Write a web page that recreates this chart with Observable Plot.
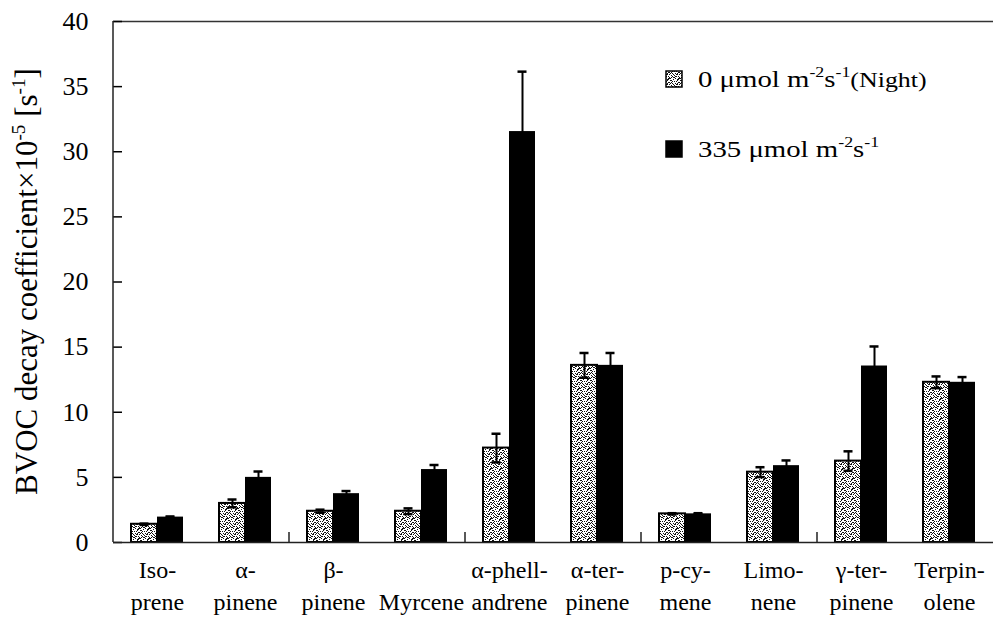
<!DOCTYPE html>
<html>
<head>
<meta charset="utf-8">
<script src="https://cdn.jsdelivr.net/npm/d3@7"></script>
<script src="https://cdn.jsdelivr.net/npm/@observablehq/plot@0.6"></script>
<style>
  body { margin: 0; background: #fff; }
  #chart { width: 993px; height: 622px; }
  #chart svg, #chart svg text, #chart svg tspan {
    font-family: "Liberation Serif", "Times New Roman", serif !important;
  }
</style>
</head>
<body>
<div id="chart"></div>
<script>
// BVOC decay coefficients (×10^-5 s^-1) for each compound, dark vs. light.
const compounds = ["Isoprene", "α-pinene", "β-pinene", "Myrcene", "α-phellandrene",
                   "α-terpinene", "p-cymene", "Limonene", "γ-terpinene", "Terpinolene"];
const tickLabels = ["Iso-\nprene", "α-\npinene", "β-\npinene", "\nMyrcene", "α-phell-\nandrene",
                    "α-ter-\npinene", "p-cy-\nmene", "Limo-\nnene", "γ-ter-\npinene", "Terpin-\nolene"];
const seriesKeys = ["night", "light"];
const nightRate = [1.4, 3.0, 2.4, 2.4, 7.25, 13.6, 2.2, 5.4, 6.25, 12.3];
const nightErr  = [0.05, 0.3, 0.12, 0.22, 1.1, 0.95, 0.05, 0.38, 0.75, 0.45];
const lightRate = [1.95, 5.0, 3.75, 5.6, 31.55, 13.6, 2.2, 5.9, 13.55, 12.3];
const lightErr  = [0.05, 0.45, 0.2, 0.35, 4.6, 0.95, 0.05, 0.4, 1.5, 0.4];
const yTicks = [0, 5, 10, 15, 20, 25, 30, 35, 40];

const rows = compounds.flatMap((c, i) => [
  {compound: c, series: "night", value: nightRate[i], err: nightErr[i]},
  {compound: c, series: "light", value: lightRate[i], err: lightErr[i]}
]);
const labelOf = new Map(compounds.map((c, i) => [c, tickLabels[i]]));
const ink = "#000";
const serif = "'Liberation Serif', 'Times New Roman', serif";

const plot = Plot.plot({
  width: 993,
  height: 622,
  marginLeft: 113,
  marginRight: 0,
  marginTop: 21,
  marginBottom: 80,
  style: {color: ink, background: "#fff", fontFamily: serif},
  fx: {domain: compounds, paddingInner: 0, paddingOuter: 0, label: null},
  x: {domain: seriesKeys, paddingInner: 0, paddingOuter: 0.66, axis: null},
  y: {domain: [0, 40], label: null},
  marks: [
    Plot.ruleY([40], {stroke: "#333", strokeWidth: 1.5}),
    Plot.axisY(yTicks, {tickSize: 0, tickPadding: 25, fontSize: 26, label: null}),
    Plot.axisY(yTicks, {tickSize: -9, text: null, strokeWidth: 1.5}),
    Plot.axisFx({anchor: "bottom", tickSize: 0, tickPadding: 13, fontSize: 24, lineHeight: 1.32,
                 tickFormat: (d) => labelOf.get(d), label: null}),
    Plot.barY(rows, {filter: (d) => d.series === "night", fx: "compound", x: "series", y: "value",
                     fill: "url(#stipple)", stroke: ink, strokeWidth: 2}),
    Plot.barY(rows, {filter: (d) => d.series === "light", fx: "compound", x: "series", y: "value",
                     fill: ink}),
    Plot.ruleX(rows, {fx: "compound", x: "series", y1: (d) => d.value - d.err, y2: (d) => d.value + d.err,
                      stroke: ink, strokeWidth: 2}),
    Plot.tickY(rows, {fx: "compound", x: "series", y: (d) => d.value + d.err,
                      insetLeft: 8.5, insetRight: 8.5, stroke: ink, strokeWidth: 2.5}),
    Plot.tickY(rows, {fx: "compound", x: "series", y: (d) => d.value - d.err,
                      insetLeft: 8.5, insetRight: 8.5, stroke: ink, strokeWidth: 2.5}),
    Plot.ruleY([0], {stroke: "#222", strokeWidth: 1.5})
  ]
});

const svg = d3.select(plot);
const fx = plot.scale("fx");
const y = plot.scale("y");

// Stippled fill for the night-time bars
const pattern = svg.insert("defs", ":first-child")
  .append("pattern").attr("id", "stipple").attr("patternUnits", "userSpaceOnUse")
  .attr("width", 10).attr("height", 10);
pattern.append("rect").attr("width", 10).attr("height", 10).attr("fill", "#fff");
const dots = [[0,0,2],[4,1,1],[7,0,1],[2,3,1],[6,4,2],[1,5,1],[8,6,1],[3,7,2],[5,8,1],[0,8,1],
              [7,3,1],[4,5,1],[2,1,1],[9,2,1],[5,3,1],[3,9,1],[8,8,2],[1,7,1],[6,6,1],[9,4,1],
              [2,6,1],[0,3,1],[6,1,1],[8,2,1],[4,7,1],[7,9,2],[1,2,1],[5,6,1],[3,4,1],[9,7,1]];
pattern.selectAll("rect.dot").data(dots).join("rect").attr("class", "dot")
  .attr("x", (d) => d[0]).attr("y", (d) => d[1]).attr("width", (d) => d[2]).attr("height", 1)
  .attr("fill", "#111");

// Left axis line
const [x0] = fx.range;
svg.append("line").attr("x1", x0).attr("x2", x0).attr("y1", y.apply(0)).attr("y2", y.apply(40))
  .attr("stroke", "#222").attr("stroke-width", 1.5);

// Category tick marks on every other boundary
compounds.forEach((c, i) => {
  if (i > 0 && i % 2 === 0) {
    const xb = fx.apply(c);
    svg.append("line").attr("x1", xb).attr("x2", xb).attr("y1", y.apply(0)).attr("y2", y.apply(0) - 10)
      .attr("stroke", "#222").attr("stroke-width", 1.5);
  }
});

// Text with superscripts / smaller runs
function richText(sel, parts, size) {
  let shift = 0;
  for (const [t, kind] of parts) {
    const fs = kind === "s" ? size * 0.62 : kind === "m" ? size * 0.9 : size;
    const target = kind === "s" ? -size * 0.4 : 0;
    sel.append("tspan").attr("font-size", fs).attr("dy", target - shift).text(t);
    shift = target;
  }
}

// Y-axis title
const yMid = (y.apply(0) + y.apply(40)) / 2;
const title = svg.append("text").attr("transform", `translate(37,${yMid}) rotate(-90)`)
  .attr("text-anchor", "middle").attr("fill", ink).attr("font-size", 31);
richText(title, [["BVOC decay coefficient×10", "n"], ["-5", "s"], [" [s", "n"], ["-1", "s"], ["]", "n"]], 31);

// Legend (text set slightly wide)
const legendItems = [
  {fill: "url(#stipple)", top: 71, parts: [["0 μmol m", "n"], ["-2", "s"], ["s", "n"], ["-1", "s"], ["(Night)", "m"]]},
  {fill: ink, top: 141, parts: [["335 μmol m", "n"], ["-2", "s"], ["s", "n"], ["-1", "s"]]}
];
const legend = svg.append("g");
for (const item of legendItems) {
  legend.append("rect").attr("x", 666).attr("y", item.top).attr("width", 16).attr("height", 16)
    .attr("fill", item.fill).attr("stroke", ink).attr("stroke-width", 1.5);
  const t = legend.append("text").attr("transform", `translate(698,${item.top + 16}) scale(1.2,1)`)
    .attr("text-anchor", "start").attr("fill", ink);
  richText(t, item.parts, 24);
}

svg.attr("font-family", serif);

document.getElementById("chart").appendChild(plot);
</script>
</body>
</html>
